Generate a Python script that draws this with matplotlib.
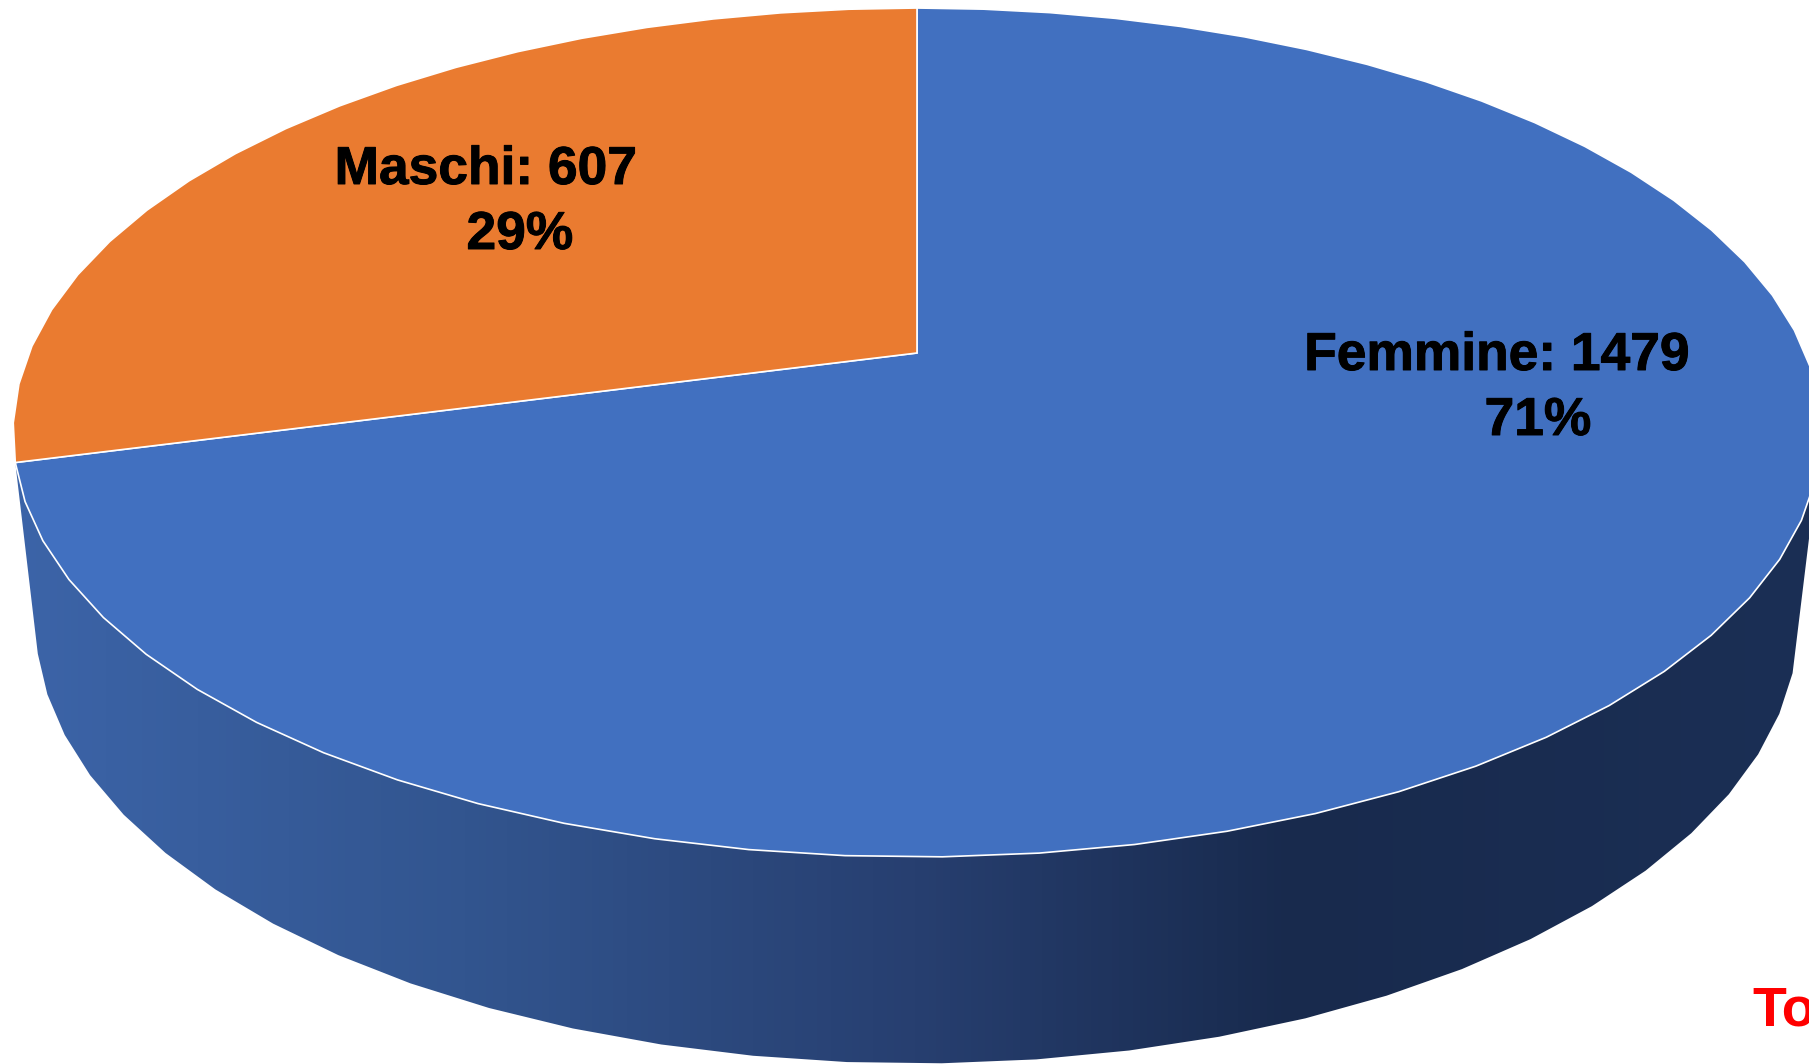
import numpy as np
import matplotlib
matplotlib.use("Agg")
import matplotlib.pyplot as plt
import matplotlib.patheffects as pe
from matplotlib.colors import LinearSegmentedColormap
from matplotlib.patches import Polygon

# ── Data ───────────────────────────────────────────────────────────────────────
labels = ["Femmine", "Maschi"]
values = [1479, 607]
percents = ["71%", "29%"]
total_label = "To"

# ── Colours ────────────────────────────────────────────────────────────────────
C_FEMMINE = "#4170c0"
C_MASCHI = "#ea7b30"
C_TOTAL = "#ff0000"
wall_stops = [(0.0, "#3c64a8"), (0.25, "#32558f"), (0.50, "#273f70"),
              (0.71, "#182a4d"), (1.0, "#1b2f55")]

# ── Pie geometry, in image pixels ──────────────────────────────────────────────
W, H = 1809, 1064
CX = 917
CY_TOP = 353
CY_BASE = 540
A = 888
B = 409.6
K = 0.1873        # perspective strength
BASE_X = 0.975
BASE_Y = 1.0386


def project(theta, cy=CY_TOP, sx=1.0, sy=1.0):
    # circle seen from above in perspective, theta in degrees
    t = np.radians(theta)
    f = 1 / (1 + K * np.sin(t))
    return np.column_stack([CX + sx * A * np.cos(t) * f, cy - sy * B * np.sin(t) * f])


sweep = 360 * values[0] / sum(values)
seam = 90 - sweep          # Femmine runs clockwise from the top
fem_theta = np.linspace(90, seam, 51)
mas_theta = np.linspace(seam, seam - (360 - sweep), 21)

fig = plt.figure(figsize=(W / 100, H / 100), dpi=100, facecolor="white")
ax = fig.add_axes([0, 0, 1, 1])

# ── Side wall ──────────────────────────────────────────────────────────────────
# same facets as the top face, from the right silhouette round to the seam
wall_top = project(fem_theta[20:][::-1])
wall_base = project(fem_theta[21:], CY_BASE, BASE_X, BASE_Y)
wall = Polygon(np.vstack([wall_top, wall_base]), closed=True,
               facecolor="none", edgecolor="none", transform=ax.transData)
ax.add_patch(wall)

cmap = LinearSegmentedColormap.from_list("wall", wall_stops)
grad = ax.imshow(np.linspace(0, 1, 512)[None, :], cmap=cmap, aspect="auto",
                 extent=(15, 1815, H, 0), zorder=1)
grad.set_clip_path(wall)

# ── Top face ───────────────────────────────────────────────────────────────────
apex = np.array([[CX, CY_TOP]])
for theta, color in [(fem_theta, C_FEMMINE), (mas_theta, C_MASCHI)]:
    ax.add_patch(Polygon(np.vstack([apex, project(theta)]), closed=True,
                         facecolor=color, edgecolor="white", lw=1.2,
                         joinstyle="miter", zorder=2))

# ── Labels ─────────────────────────────────────────────────────────────────────
bolder = [pe.withStroke(linewidth=0.7, foreground="black")]
font = dict(family="Liberation Sans", fontweight="bold", fontsize=38.4,
            color="black", ha="center", va="baseline", zorder=5,
            path_effects=bolder)
ax.text(486, 184, f"{labels[1]}: {values[1]}", **font)
ax.text(520, 249, percents[1], **font)
ax.text(1497, 370, f"{labels[0]}: {values[0]}", **font)
ax.text(1538, 435, percents[0], **font)
ax.text(1752, 1025, total_label, family="Liberation Sans", fontweight="bold",
        fontsize=40, color=C_TOTAL, ha="left", va="baseline", zorder=5)

ax.set_xlim(0, W)
ax.set_ylim(H, 0)
ax.axis("off")

fig.savefig("out.png", dpi=100, facecolor="white")
